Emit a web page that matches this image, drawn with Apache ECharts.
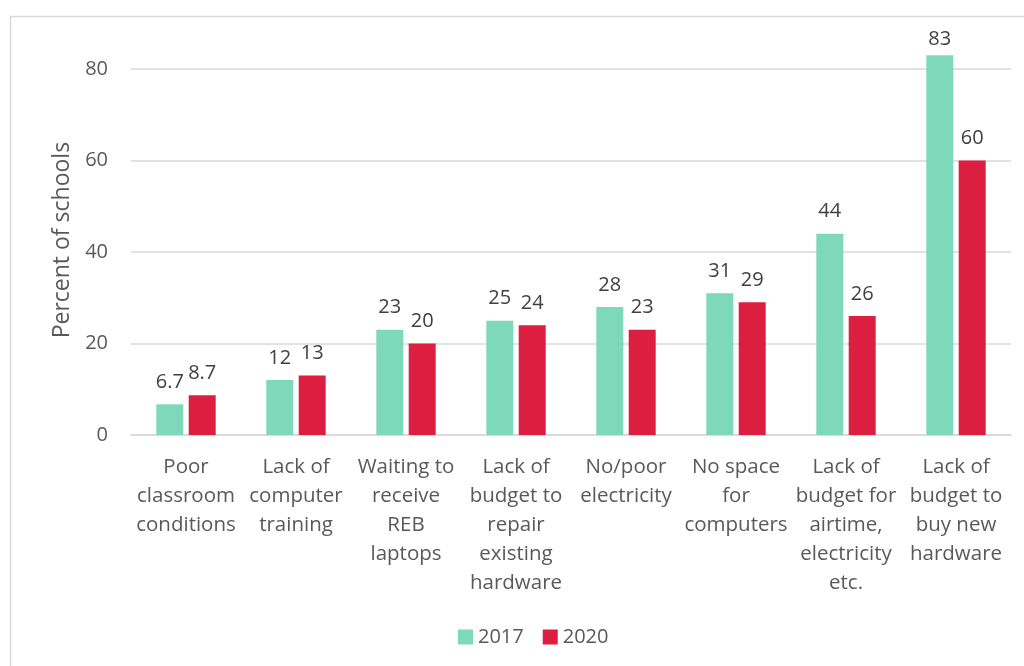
<!DOCTYPE html>
<html>
<head>
<meta charset="utf-8">
<script src="https://cdn.jsdelivr.net/npm/echarts@6/dist/echarts.min.js"></script>
<style>
  html, body { margin: 0; padding: 0; background: #fff; }
  #chart { width: 1024px; height: 666px; }
</style>
</head>
<body>
<div id="chart"></div>
<script>
// Barriers to computer use, share of schools reporting each
const categories = [
  'Poor\nclassroom\nconditions',
  'Lack of\ncomputer\ntraining',
  'Waiting to\nreceive\nREB\nlaptops',
  'Lack of\nbudget to\nrepair\nexisting\nhardware',
  'No/poor\nelectricity',
  'No space\nfor\ncomputers',
  'Lack of\nbudget for\nairtime,\nelectricity\netc.',
  'Lack of\nbudget to\nbuy new\nhardware'
];
const values2017 = [6.7, 12, 23, 25, 28, 31, 44, 83];
const values2020 = [8.7, 13, 20, 24, 23, 29, 26, 60];
const seriesNames = ['2017', '2020'];

const FONT = '"Open Sans", sans-serif';

const chart = echarts.init(document.getElementById('chart'), null, { renderer: 'canvas' });

const labelStyle = {
  show: true,
  position: 'top',
  distance: 12,
  color: '#404040',
  fontFamily: FONT,
  fontSize: 20
};

// the tallest bar keeps its label a little closer so it stays inside the frame
function withLabels(values) {
  const top = Math.max(...values);
  return values.map(v => v === top && v > 80 ? { value: v, label: { distance: 6 } } : v);
}

chart.setOption({
  animation: false,
  backgroundColor: '#ffffff',
  graphic: [{
    type: 'rect',
    shape: { x: 10.5, y: 16.5, width: 1040, height: 700 },
    style: { fill: 'none', stroke: '#d9d9d9', lineWidth: 1.5 },
    silent: true
  }],
  grid: { left: 131, right: 13, top: 23.25, bottom: 231 },
  legend: {
    bottom: 14,
    left: 453,
    itemWidth: 15,
    itemHeight: 15,
    itemGap: 19,
    icon: 'rect',
    textStyle: { color: '#595959', fontFamily: FONT, fontSize: 20 },
    data: seriesNames
  },
  xAxis: {
    type: 'category',
    data: categories,
    axisLine: { show: true, lineStyle: { color: '#d9d9d9', width: 1.5 } },
    axisTick: { show: false },
    axisLabel: {
      interval: 0,
      margin: 18,
      color: '#595959',
      fontFamily: FONT,
      fontSize: 20.5,
      lineHeight: 29,
      align: 'center'
    }
  },
  yAxis: {
    type: 'value',
    min: 0,
    max: 90,
    interval: 20,
    name: 'Percent of schools',
    nameLocation: 'middle',
    nameGap: 57,
    nameTextStyle: { color: '#595959', fontFamily: FONT, fontSize: 23, padding: [0, 22, 0, 0] },
    axisLine: { show: false },
    axisTick: { show: false },
    axisLabel: {
      margin: 23,
      showMaxLabel: false,
      color: '#595959',
      fontFamily: FONT,
      fontSize: 20
    },
    splitLine: { show: true, showMaxLine: false, lineStyle: { color: '#d9d9d9', width: 1.5 } }
  },
  series: [
    {
      name: seriesNames[0],
      type: 'bar',
      data: withLabels(values2017),
      barWidth: 27,
      barGap: '20%',
      itemStyle: { color: '#7dd9b9' },
      label: labelStyle
    },
    {
      name: seriesNames[1],
      type: 'bar',
      data: values2020,
      barWidth: 27,
      barGap: '20%',
      itemStyle: { color: '#dc1e40' },
      label: labelStyle
    }
  ]
});
</script>
</body>
</html>
